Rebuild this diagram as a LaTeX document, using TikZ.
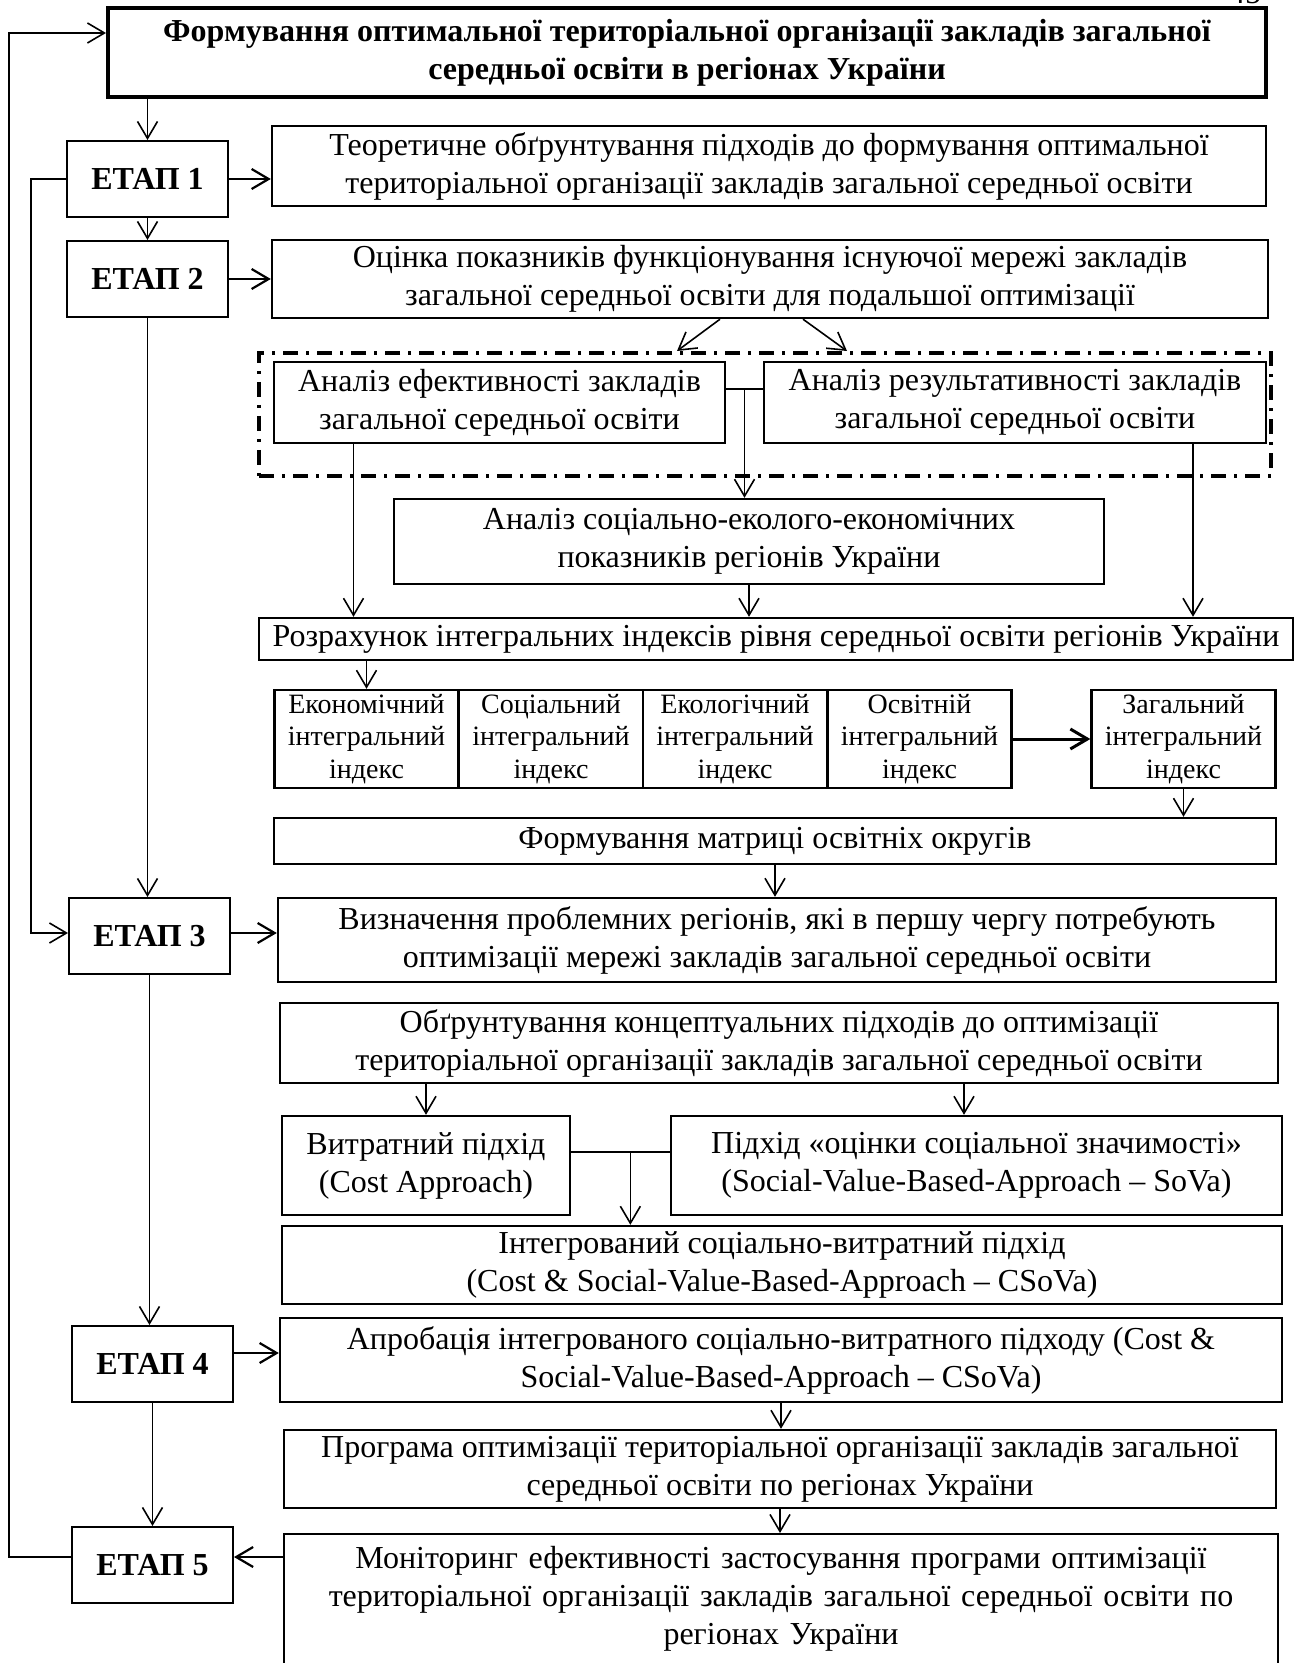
\documentclass[tikz,border=0pt]{standalone}
\usepackage{fontspec}
\setmainfont{Liberation Serif}
\usepackage{tikz}
\usetikzlibrary{arrows.meta,positioning,calc,fit}

\begin{document}
\begin{tikzpicture}[x=0.5pt,y=-0.5pt,
        font=\fontsize{16}{19}\selectfont,
        blk/.style={draw,rectangle,line width=1.2pt,align=center,inner sep=2pt},
        etap/.style={draw,rectangle,line width=1pt,align=center,minimum width=80.5pt,minimum height=38pt,
          font=\fontsize{16}{18}\selectfont\bfseries},
        idx/.style={blk,minimum width=92pt,minimum height=49pt,font=\fontsize{14}{16.3}\selectfont},
        link/.style={line width=0.8pt},
        arr/.style={link,arrows={-Straight Barb[length=8.5pt,width=10pt]}},
        grp/.style={draw,line width=2pt,dash pattern=on 7.5pt off 4pt on 1.5pt off 4pt,inner sep=0pt}]
        \useasboundingbox (0,0) rectangle (1301,1663);
        \clip (0,0) rectangle (1301,1663);
        % page number, cut off at the top
        \node[anchor=base] (pg) at (1245,4) {45};
        \node[blk,line width=2pt,minimum width=579pt,minimum height=44.5pt,
          font=\fontsize{16}{19}\selectfont\bfseries] (title) at (687,52.5)
          {Формування оптимальної територіальної організації закладів загальної\\ середньої освіти в регіонах України};
        % stages
        \node[etap] (e1) at (147.5,179) {ЕТАП 1};
        \node[etap] (e2) at (147.5,279) {ЕТАП 2};
        \node[etap] (e3) at (149.5,936) {ЕТАП 3};
        \node[etap] (e4) at (152.5,1364) {ЕТАП 4};
        \node[etap] (e5) at (152.5,1565) {ЕТАП 5};
        % right column
        \node[blk,minimum width=497pt,minimum height=40pt] (t1) at (769,166)
          {Теоретичне обґрунтування підходів до формування оптимальної\\ територіальної організації закладів загальної середньої освіти};
        \node[blk,minimum width=498pt,minimum height=39pt] (t2) at (770,279)
          {Оцінка показників функціонування існуючої мережі закладів\\ загальної середньої освіти для подальшої оптимізації};
        \node[blk,minimum width=225.5pt,minimum height=40.5pt] (ef) at (499.5,402.5)
          {Аналіз ефективності закладів\\ загальної середньої освіти};
        \node[blk,minimum width=251pt,minimum height=40.5pt] (rz) at (1015,402.5)
          {Аналіз результативності закладів\\ загальної середньої освіти};
        \node[grp,fit={(259,353) (1271,476)}] (grp) {};
        \node[blk,minimum width=355pt,minimum height=42.5pt] (soc) at (749,541.5)
          {Аналіз соціально-еколого-економічних\\ показників регіонів України};
        \node[blk,minimum width=517pt,minimum height=21pt] (rozr) at (776,639)
          {Розрахунок інтегральних індексів рівня середньої освіти регіонів України};
        \node[idx] (i1) at (366.5,739) {Економічний\\ інтегральний\\ індекс};
        \node[idx] (i2) at (551,739) {Соціальний\\ інтегральний\\ індекс};
        \node[idx] (i3) at (735,739) {Екологічний\\ інтегральний\\ індекс};
        \node[idx] (i4) at (919.5,739) {Освітній\\ інтегральний\\ індекс};
        \node[idx] (zag) at (1183.5,739) {Загальний\\ інтегральний\\ індекс};
        \node[blk,minimum width=501pt,minimum height=23pt] (matr) at (775,841)
          {Формування матриці освітніх округів};
        \node[blk,minimum width=499pt,minimum height=42pt] (vyz) at (777,940)
          {Визначення проблемних регіонів, які в першу чергу потребують\\ оптимізації мережі закладів загальної середньої освіти};
        \node[blk,minimum width=499pt,minimum height=40pt] (obg) at (779,1043)
          {Обґрунтування концептуальних підходів до оптимізації\\ територіальної організації закладів загальної середньої освіти};
        \node[blk,minimum width=144pt,minimum height=49.5pt] (vyt) at (426,1165.5)
          {Витратний підхід\\ (Cost Approach)};
        \node[blk,minimum width=305.5pt,minimum height=49.5pt] (pid) at (976.5,1165.5)
          {Підхід «оцінки соціальної значимості»\\ (Social-Value-Based-Approach – SoVa)};
        \node[blk,minimum width=500pt,minimum height=39pt] (int) at (782,1265)
          {Інтегрований соціально-витратний підхід\\ (Cost \& Social-Value-Based-Approach – CSoVa)};
        \node[blk,minimum width=501pt,minimum height=42pt] (apr) at (781,1360)
          {Апробація інтегрованого соціально-витратного підходу (Cost \&\\ Social-Value-Based-Approach – CSoVa)};
        \node[blk,minimum width=496pt,minimum height=39pt] (prg) at (780,1469)
          {Програма оптимізації територіальної організації закладів загальної\\ середньої освіти по регіонах України};
        \node[blk,anchor=north,text width=490pt,minimum width=497pt,text height=15pt,text depth=70pt] (mon) at (781,1533)
          {Моніторинг ефективності застосування програми оптимізації\\ територіальної організації закладів загальної середньої освіти по\\ регіонах України};
        % feedback lines on the left
        \draw[arr] ([yshift=4pt]e5.west) -- ++(-31pt,0) |- ([yshift=9.75pt]title.west);
        \coordinate (e3in) at ([yshift=1.5pt]e3.west);
        \draw[arr] (e1.west) -- ++(-17.5pt,0) |- (e3in);
        % stage chain
        \draw[arr] (e1.north |- title.south) -- (e1.north);
        \draw[arr] (e1.south) -- (e2.north);
        \draw[arr] (e2.south) -- (e2.south |- e3.north);
        \draw[arr] (e3.south) -- (e3.south |- e4.north);
        \draw[arr] (e4.south) -- (e5.north);
        % stage to box
        \coordinate (e3out) at ([yshift=1.5pt]e3.east);
        \coordinate (e4out) at ([yshift=5.5pt]e4.east);
        \coordinate (e5in) at ([yshift=4pt]e5.east);
        \draw[arr,line width=1.1pt] (e1.east) -- (e1.east -| t1.west);
        \draw[arr,line width=1.1pt] (e2.east) -- (e2.east -| t2.west);
        \draw[arr,line width=1.1pt] (e3out) -- (e3out -| vyz.west);
        \draw[arr,line width=1.1pt] (e4out) -- (e4out -| apr.west);
        \draw[arr,line width=1.1pt] (e5in -| mon.west) -- (e5in);
        % analysis block
        \draw[arr] ([xshift=-25pt]t2.south) -- ([xshift=-44pt]grp.north);
        \draw[arr] ([xshift=16.5pt]t2.south) -- ([xshift=41pt]grp.north);
        \coordinate (efr) at ([yshift=6.75pt]ef.east);
        \coordinate (rzl) at ([yshift=6.75pt]rz.west);
        \coordinate (j1) at ($(efr)!.5!(rzl)$);
        \draw[link] (efr) -- (rzl);
        \draw[arr] (j1) -- (j1 |- soc.north);
        \coordinate (efd) at ([xshift=-73pt]ef.south);
        \coordinate (rzd) at ([xshift=89pt]rz.south);
        \draw[arr] (efd) -- (efd |- rozr.north);
        \draw[arr] (rzd) -- (rzd |- rozr.north);
        \draw[arr] (soc.south) -- (soc.south |- rozr.north);
        \draw[arr] (i1.north |- rozr.south) -- (i1.north);
        \draw[arr,line width=1.5pt] (i4.east) -- (zag.west);
        \draw[arr] (zag.south) -- (zag.south |- matr.north);
        \draw[arr] (matr.south) -- (matr.south |- vyz.north);
        % approaches
        \coordinate (pidu) at ([xshift=-6.25pt]pid.north);
        \draw[arr] (vyt.north |- obg.south) -- (vyt.north);
        \draw[arr] (pidu |- obg.south) -- (pidu);
        \coordinate (vytr) at ([yshift=6.75pt]vyt.east);
        \coordinate (pidl) at ([yshift=6.75pt]pid.west);
        \coordinate (j2) at ($(vytr)!.6!(pidl)$);
        \draw[link] (vytr) -- (pidl);
        \draw[arr] (j2) -- (j2 |- int.north);
        \draw[arr] (apr.south) -- (apr.south |- prg.north);
        \draw[arr] (prg.south) -- (prg.south |- mon.north);
\end{tikzpicture}
\end{document}
